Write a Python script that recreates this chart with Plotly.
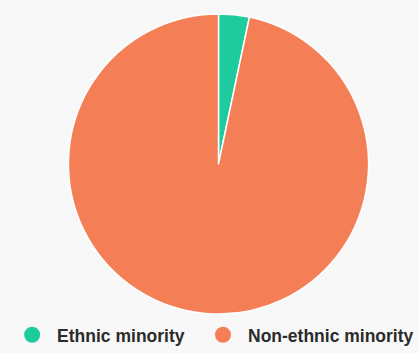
import plotly.graph_objects as go

# Share of respondents by ethnicity (%)
groups = ["Ethnic minority", "Non-ethnic minority"]
shares = [3.3, 96.7]
colors = ["#1ecb9f", "#f47f56"]

fig = go.Figure()

fig.add_trace(go.Pie(
    labels=groups,
    values=shares,
    sort=False,
    direction="clockwise",
    rotation=0,
    textinfo="none",
    hoverinfo="label+percent",
    marker=dict(colors=colors, line=dict(color="#ffffff", width=1.5)),
    domain=dict(x=[0.044, 0.999], y=[0.095, 0.960]),
    showlegend=False,
))

# Legend entries drawn as round markers, one legend box each
legend_ids = ["legend", "legend2"]
for name, col, lid in zip(groups, colors, legend_ids):
    fig.add_trace(go.Scatter(
        x=[None], y=[None], mode="markers", name=name,
        marker=dict(color=col, size=16, symbol="circle"),
        hoverinfo="skip",
        legend=lid,
    ))

legend_style = dict(
    orientation="h",
    xanchor="left",
    y=-0.017, yanchor="bottom",
    font=dict(size=17.5, weight="bold", color="#2b2b2b"),
    itemwidth=40,
    itemsizing="trace",
    bgcolor="rgba(0,0,0,0)",
)

fig.update_layout(
    width=419, height=353,
    margin=dict(l=0, r=0, t=0, b=0),
    paper_bgcolor="#f8f8f8",
    plot_bgcolor="#f8f8f8",
    xaxis=dict(visible=False),
    yaxis=dict(visible=False),
    font=dict(family="Liberation Sans, Arial, sans-serif", color="#2b2b2b"),
    legend=dict(x=0.017, **legend_style),
    legend2=dict(x=0.473, **legend_style),
)

fig.write_html("out.html")
